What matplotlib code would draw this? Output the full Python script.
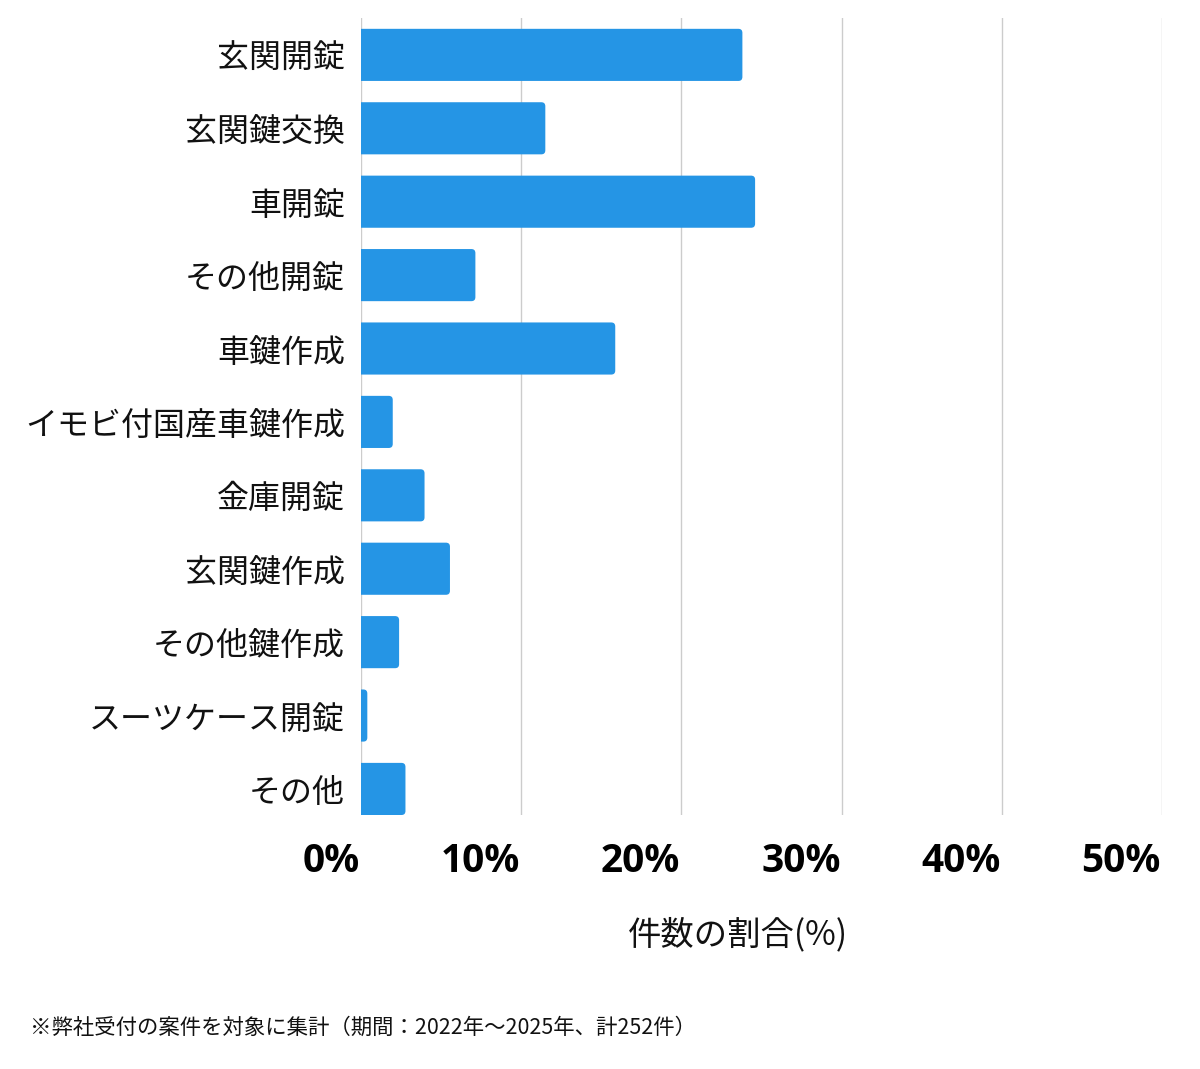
import matplotlib
matplotlib.use('Agg')
from matplotlib import pyplot as plt
from matplotlib.patches import FancyBboxPatch

plt.rcParams['font.family'] = ['Noto Sans CJK JP', 'DejaVu Sans']

categories = ['玄関開錠', '玄関鍵交換', '車開錠', 'その他開錠', '車鍵作成',
              'イモビ付国産車鍵作成', '金庫開錠', '玄関鍵作成', 'その他鍵作成',
              'スーツケース開錠', 'その他']
counts = [60, 29, 62, 18, 40, 5, 10, 14, 6, 1, 7]
total = 252
shares = [c / total * 100 for c in counts]
x_ticks = [0, 10, 20, 30, 40, 50]
x_tick_labels = ['0%', '10%', '20%', '30%', '40%', '50%']

bar_color = '#2595e5'
bar_h = 0.71

fig = plt.figure(figsize=(12, 10.69), dpi=100)
ax = fig.add_axes([0.3008, 0.2376, 0.6675, 0.7456])

ax.set_xlim(0, 50)
ax.set_ylim(10.355, -0.503)

# px per data unit, used to keep the corner rounding circular
x_scale = 801 / 50.0
y_scale = 73.5
r = 4 / x_scale
for i, v in enumerate(shares):
    y0 = i - bar_h / 2
    # start left of 0 so the rounded left corners get clipped off
    ax.add_patch(FancyBboxPatch((-3 * r, y0), v + 3 * r, bar_h,
                                boxstyle='round,pad=0,rounding_size=%f' % r,
                                mutation_aspect=x_scale / y_scale,
                                fc=bar_color, ec='none', zorder=3))

for t in x_ticks:
    ax.axvline(t, color='#cccccc', lw=1, zorder=1)

for s in ax.spines.values():
    s.set_visible(False)

ax.set_yticks([])
ax.set_xticks([])
for i, lab in enumerate(categories):
    ax.annotate(lab, xy=(0, i), xycoords=('axes fraction', 'data'),
                xytext=(-16, -4), textcoords='offset pixels',
                ha='right', va='center', fontsize=23, color='#111111')

for t, lab in zip(x_ticks, x_tick_labels):
    ax.annotate(lab, xy=(t, 0), xycoords=('data', 'axes fraction'),
                xytext=(-1, -46), textcoords='offset pixels',
                ha='right', va='center', fontsize=28, fontweight='bold',
                family=['Open Sans', 'DejaVu Sans'], color='#000000')

fig.text(738 / 1200, 1 - 935 / 1069, '件数の割合(%)', ha='center', va='center',
         fontsize=24, color='#111111')
fig.text(30 / 1200, 1 - 1028 / 1069,
         '※弊社受付の案件を対象に集計（期間：2022年〜2025年、計252件）',
         ha='left', va='center', fontsize=15.4, color='#111111')

fig.savefig('out.png', dpi=100, facecolor='white')
